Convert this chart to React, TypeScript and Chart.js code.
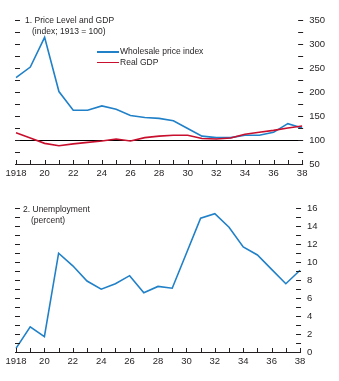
import React, { useEffect, useRef } from "react";
import { Chart, registerables } from "chart.js";

Chart.register(...registerables);

// ---------- data ----------
const YEARS = [1918, 1919, 1920, 1921, 1922, 1923, 1924, 1925, 1926, 1927, 1928, 1929, 1930, 1931, 1932, 1933, 1934, 1935, 1936, 1937, 1938];
const WHOLESALE_PRICE_INDEX = [230, 252, 314, 201, 162, 162, 171, 164, 151, 147, 145, 140, 124, 108, 105, 105, 110, 110, 116, 134, 125];
const REAL_GDP = [115, 104, 93, 88, 92, 95, 98, 102, 98, 105, 108, 110, 110, 103, 102, 104, 112, 116, 120, 125, 129];
const UNEMPLOYMENT = [0.4, 2.8, 1.7, 11.0, 9.6, 7.9, 7.0, 7.6, 8.5, 6.6, 7.3, 7.1, 11.0, 14.9, 15.4, 13.9, 11.7, 10.8, 9.2, 7.6, 9.1];

const PRICE_AXIS = { min: 50, max: 350, step: 25, labelStep: 50 };
const UNEMP_AXIS = { min: 0, max: 16, step: 1, labelStep: 2 };
const BASELINE = 100;

const SERIES_NAMES = ["Wholesale price index", "Real GDP"];
const TITLE_1 = ["1. Price Level and GDP", "(index; 1913 = 100)"];
const TITLE_2 = ["2. Unemployment", "(percent)"];

// ---------- style ----------
const BLUE = "#2080c8";
const RED = "#c8102e";
const INK = "#231f20";
const FONT = "'Liberation Sans', Arial, sans-serif";
const TICK_SIZE = 9.5;

const yearLabel = (i: number) => (i === 0 ? String(YEARS[0]) : i % 2 === 0 ? String(YEARS[i]).slice(2) : "");

const innerTicks = {
  id: "innerTicks",
  afterDatasetsDraw(chart: any) {
    const { ctx, chartArea, scales } = chart;
    const { left, right, bottom } = chartArea;
    ctx.save();
    ctx.strokeStyle = INK;
    ctx.lineWidth = 1;
    ctx.beginPath();
    const y = scales.y;
    y.ticks.forEach((t: any) => {
      const p = Math.round(y.getPixelForValue(t.value)) + 0.5;
      ctx.moveTo(left - 1, p);
      ctx.lineTo(left + 4, p);
      ctx.moveTo(right - 4, p);
      ctx.lineTo(right + 1, p);
    });
    const x = scales.x;
    x.ticks.forEach((_t: any, i: number) => {
      const p = Math.round(x.getPixelForTick(i)) + 0.5;
      ctx.moveTo(p, bottom);
      ctx.lineTo(p, bottom - 4);
    });
    ctx.stroke();
    ctx.restore();
  },
};

const baselinePlugin = {
  id: "baseline",
  beforeDatasetsDraw(chart: any, _args: any, opts: any) {
    if (opts == null || opts.value == null) return;
    const { ctx, chartArea, scales } = chart;
    const p = Math.round(scales.y.getPixelForValue(opts.value)) + 0.5;
    ctx.save();
    ctx.strokeStyle = "#000";
    ctx.lineWidth = 1;
    ctx.beginPath();
    ctx.moveTo(chartArea.left, p);
    ctx.lineTo(chartArea.right, p);
    ctx.stroke();
    ctx.restore();
  },
};

function makeOptions(axis: any, padding: any, baseline: number | null) {
  return {
    responsive: false,
    animation: false as const,
    layout: { padding },
    plugins: {
      legend: { display: false },
      tooltip: { enabled: false },
      baseline: { value: baseline },
    },
    elements: { point: { radius: 0 }, line: { tension: 0, borderWidth: 1.6 } },
    scales: {
      x: {
        type: "category" as const,
        offset: false,
        grid: { display: false, drawTicks: false },
        border: { display: true, color: INK, width: 1 },
        ticks: {
          autoSkip: false,
          maxRotation: 0,
          padding: 4,
          color: INK,
          font: { family: FONT, size: TICK_SIZE },
          callback: (_v: any, i: number) => yearLabel(i),
        },
      },
      y: {
        position: "right" as const,
        min: axis.min,
        max: axis.max,
        grid: { display: false, drawTicks: false },
        border: { display: false },
        ticks: {
          stepSize: axis.step,
          autoSkip: false,
          padding: 7,
          crossAlign: "near" as const,
          color: INK,
          font: { family: FONT, size: TICK_SIZE },
          callback: (v: any) => (Number(v) % axis.labelStep === 0 ? String(v) : ""),
        },
      },
    },
  };
}

function PriceChart() {
  const ref = useRef<HTMLCanvasElement>(null);
  useEffect(() => {
    const chart = new Chart(ref.current!, {
      type: "line",
      data: {
        labels: YEARS.map(String),
        datasets: [
          { label: SERIES_NAMES[1], data: REAL_GDP, borderColor: RED, backgroundColor: RED, fill: false },
          { label: SERIES_NAMES[0], data: WHOLESALE_PRICE_INDEX, borderColor: BLUE, backgroundColor: BLUE, fill: false },
        ],
      },
      options: makeOptions(PRICE_AXIS, { left: 16, right: 7, top: 20, bottom: 6.6 }, BASELINE) as any,
      plugins: [innerTicks, baselinePlugin],
    });
    return () => chart.destroy();
  }, []);
  return <canvas ref={ref} width={339} height={190} style={{ display: "block" }} />;
}

function UnempChart() {
  const ref = useRef<HTMLCanvasElement>(null);
  useEffect(() => {
    const chart = new Chart(ref.current!, {
      type: "line",
      data: {
        labels: YEARS.map(String),
        datasets: [{ label: TITLE_2[0], data: UNEMPLOYMENT, borderColor: BLUE, backgroundColor: BLUE, fill: false }],
      },
      options: makeOptions(UNEMP_AXIS, { left: 16, right: 14.4, top: 18.3, bottom: 9.6 }, null) as any,
      plugins: [innerTicks, baselinePlugin],
    });
    return () => chart.destroy();
  }, []);
  return <canvas ref={ref} width={339} height={191} style={{ display: "block" }} />;
}

const textStyle: React.CSSProperties = {
  position: "absolute",
  fontFamily: FONT,
  fontSize: 9.8,
  color: INK,
  lineHeight: "12px",
  whiteSpace: "nowrap",
  transform: "scaleX(0.87)",
  transformOrigin: "0 50%",
};

function LegendRow({ color, label, top }: { color: string; label: string; top: number }) {
  return (
    <>
      <div style={{ position: "absolute", left: 97, top, width: 22, height: 1.6, background: color }} />
      <div style={{ ...textStyle, left: 120, top: top - 6 }}>{label}</div>
    </>
  );
}

export default function App() {
  return (
    <div style={{ position: "absolute", left: 0, top: 0, width: 339, height: 381, background: "#fff" }}>
      <div style={{ position: "absolute", left: 0, top: 0 }}>
        <PriceChart />
      </div>
      <div style={{ position: "absolute", left: 0, top: 190 }}>
        <UnempChart />
      </div>
      <div style={{ ...textStyle, left: 25, top: 14 }}>{TITLE_1[0]}</div>
      <div style={{ ...textStyle, left: 32, top: 25 }}>{TITLE_1[1]}</div>
      <LegendRow color={BLUE} label={SERIES_NAMES[0]} top={51} />
      <LegendRow color={RED} label={SERIES_NAMES[1]} top={61.6} />
      <div style={{ ...textStyle, left: 23, top: 203 }}>{TITLE_2[0]}</div>
      <div style={{ ...textStyle, left: 31, top: 214 }}>{TITLE_2[1]}</div>
    </div>
  );
}
